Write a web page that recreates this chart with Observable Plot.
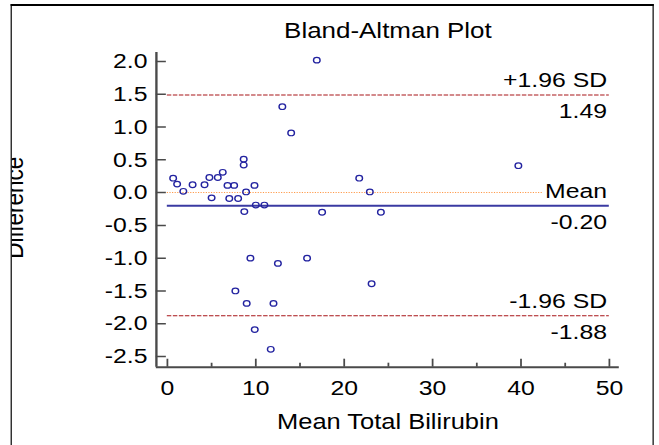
<!DOCTYPE html>
<html>
<head>
<meta charset="utf-8">
<script src="https://cdn.jsdelivr.net/npm/d3@7"></script>
<script src="https://cdn.jsdelivr.net/npm/@observablehq/plot@0.6"></script>
<style>
  html, body { margin: 0; padding: 0; background: #fff; overflow: hidden; }
  #stage { position: absolute; left: 0; top: 0; width: 558.47px; height: 445px;
           transform: scaleX(1.18); transform-origin: 0 0; }
  #box { position: absolute; left: 9.3px; top: 4px; width: 545.2px; height: 460px;
         box-sizing: border-box; border-style: solid; border-color: #000;
         border-width: 2px 1.7px 0 1.7px; overflow: hidden; }
  #chart { position: absolute; left: -11px; top: -6px; }
  #chart svg { max-width: none !important; display: block; }
</style>
</head>
<body>
<div id="stage"><div id="box"><div id="chart"></div></div></div>
<script>
// ---- data ----
const meanTotal = [0.65, 1.1, 1.8, 2.85, 4.2, 4.75, 5.0, 5.7, 6.26, 6.8, 7.55, 7.0, 8.0, 8.63, 8.63, 8.9, 8.7, 9.85, 10.0, 10.97, 13.0, 14.0, 16.9, 21.7, 22.9, 17.5, 24.15, 15.8, 12.5, 9.39, 7.69, 8.97, 12.0, 9.88, 11.69, 23.1, 39.7];
const difference = [0.22, 0.13, 0.02, 0.12, 0.12, 0.23, -0.08, 0.23, 0.31, 0.11, 0.11, -0.09, -0.09, 0.51, 0.42, 0.01, -0.29, 0.11, -0.19, -0.19, 1.31, 0.91, 2.02, 0.22, 0.01, -0.30, -0.30, -1.0, -1.08, -1.0, -1.5, -1.69, -1.69, -2.09, -2.39, -1.39, 0.41];
const lineNames = ["+1.96 SD", "Mean", "-1.96 SD"];
const lineValues = [1.49, -0.20, -1.88];
const lineValueLabels = ["1.49", "-0.20", "-1.88"];
const equalityLine = [0];
const lineExtent = [0, 50];
const xTicks = [0, 10, 20, 30, 40, 50];
const xMinorTicks = [5, 15, 25, 35, 45];
const yTicks = [2.0, 1.5, 1.0, 0.5, 0.0, -0.5, -1.0, -1.5, -2.0, -2.5];
const xDomain = [-1.244, 51.13];
const yDomain = [-2.663, 2.137];
const title = "Bland-Altman Plot";
const xLabel = "Mean Total Bilirubin";
const yLabel = "Difference";

const points = meanTotal.map((m, i) => ({m, d: difference[i]}));
const lines = lineNames.map((n, i) => ({name: n, value: lineValues[i], label: lineValueLabels[i]}));
const sdLines = lines.filter(l => l.name !== "Mean");
const meanLine = lines.filter(l => l.name === "Mean");

const S = 1.18;
const W = 659 / S;
const font = "'Liberation Sans', Arial, Helvetica, sans-serif";
const axisColor = "#4a4a4a";

const chart = Plot.plot({
  width: W,
  height: 445,
  marginLeft: 133.05,
  marginRight: W - 525.42,
  marginTop: 52,
  marginBottom: 78.3,
  x: {domain: xDomain},
  y: {domain: yDomain},
  style: {fontFamily: font, fontSize: "21px", color: "#000", background: "transparent", maxWidth: "none"},
  marks: [
    // reference lines
    Plot.ruleY(equalityLine, {x1: lineExtent[0], x2: lineExtent[1], stroke: "#ff9a4a", strokeWidth: 1, strokeDasharray: "1,1.2"}),
    Plot.ruleY(sdLines, {y: "value", x1: lineExtent[0], x2: lineExtent[1], stroke: "#a81418", strokeWidth: 1, strokeDasharray: "3.8,1.3"}),
    Plot.ruleY(meanLine, {y: "value", x1: lineExtent[0], x2: lineExtent[1], stroke: "#3a3aa2", strokeWidth: 2}),
    // line labels
    Plot.text(lines, {x: () => lineExtent[1], y: "value", text: "name", textAnchor: "end", lineAnchor: "bottom", dy: -8, dx: -2, fontSize: 21, fill: "#000", stroke: "#fff", strokeWidth: 7, paintOrder: "stroke"}),
    Plot.text(lines, {x: () => lineExtent[1], y: "value", text: "label", textAnchor: "end", lineAnchor: "top", dy: 8, dx: -2, fontSize: 21, fill: "#000"}),
    // data points
    Plot.dot(points, {x: "m", y: "d", r: 2.8, stroke: "#2323a0", strokeWidth: 1.2, fill: "none"}),
    // axis lines
    Plot.ruleX([xDomain[0]], {stroke: axisColor, strokeWidth: 2}),
    Plot.ruleY([yDomain[0]], {stroke: axisColor, strokeWidth: 2}),
    // y axis: inward ticks + labels
    Plot.axisY(yTicks, {anchor: "left", tickSize: -8.5, tickFormat: () => "", label: null, stroke: axisColor, strokeWidth: 1.5}),
    Plot.axisY(yTicks, {anchor: "left", tickSize: 0, tickPadding: 7.6, tickFormat: d => d.toFixed(1), label: null, fontSize: 21, fill: "#000"}),
    // x axis: inward ticks + labels
    Plot.axisX(xTicks, {anchor: "bottom", tickSize: -8, tickFormat: () => "", label: null, stroke: axisColor, strokeWidth: 1.5}),
    Plot.axisX(xMinorTicks, {anchor: "bottom", tickSize: -4, tickFormat: () => "", label: null, stroke: axisColor, strokeWidth: 1.5}),
    Plot.axisX(xTicks, {anchor: "bottom", tickSize: 0, tickPadding: 13, tickFormat: d => String(d), label: null, fontSize: 21, fill: "#000"}),
    // titles
    Plot.text([title], {frameAnchor: "top", dy: -14.7, lineAnchor: "bottom", fontSize: 22, fill: "#000"}),
    Plot.text([xLabel], {frameAnchor: "bottom", dy: 62, lineAnchor: "bottom", fontSize: 21.6, fill: "#000"}),
    Plot.text([yLabel], {frameAnchor: "left", rotate: -90, dx: 19.9 - 133.05, dy: 49, lineAnchor: "bottom", fontSize: 22.5, fill: "#000"})
  ]
});
document.getElementById("chart").appendChild(chart);
</script>
</body>
</html>
